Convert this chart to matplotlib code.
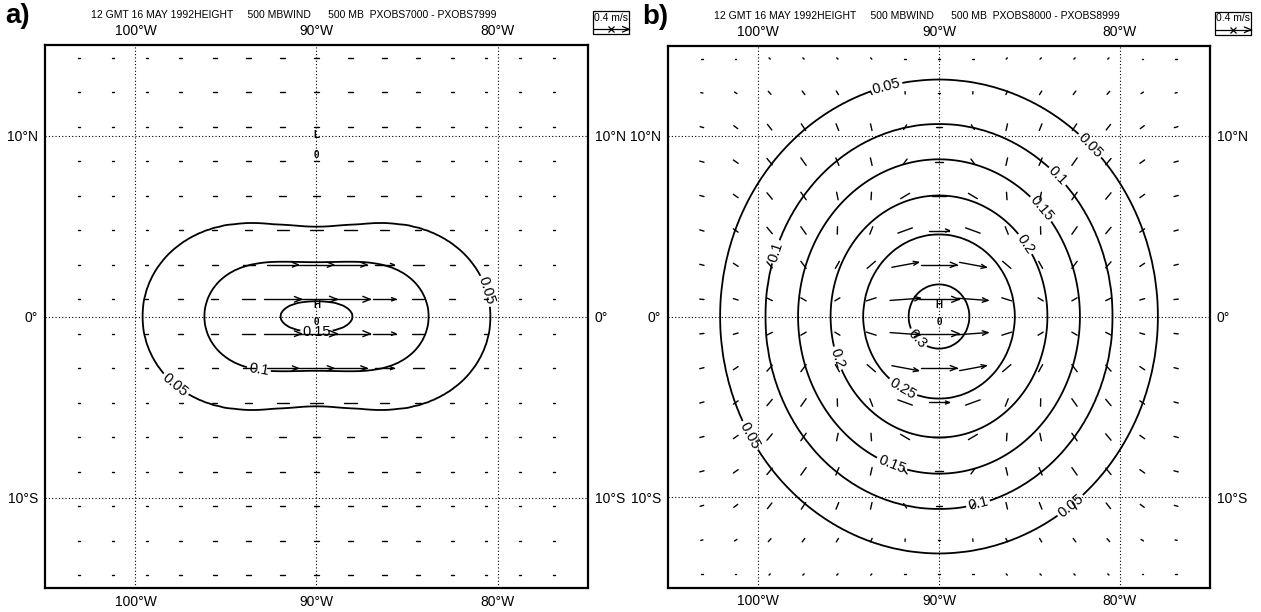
import numpy as np
import matplotlib.pyplot as plt
from matplotlib.collections import LineCollection
from matplotlib.patches import Rectangle

plt.rcParams['font.family'] = ['Liberation Sans', 'DejaVu Sans']

# vector grid (gaussian grid points inside the map)
grid_lons = [-103.125, -101.25, -99.375, -97.5, -95.625, -93.75, -91.875, -90.0,
             -88.125, -86.25, -84.375, -82.5, -80.625, -78.75, -76.875]
grid_lats = [14.28, 12.38, 10.48, 8.57, 6.67, 4.76, 2.86, 0.95,
             -0.95, -2.86, -4.76, -6.67, -8.57, -10.48, -12.38, -14.28]

lon_ticks = [-100, -90, -80]
lon_labels = ['100°W', '90°W', '80°W']
lat_ticks = [10, 0, -10]
lat_labels = ['10°N', '0°', '10°S']

titles = ['12 GMT 16 MAY 1992HEIGHT     500 MBWIND      500 MB  PXOBS7000 - PXOBS7999',
          '12 GMT 16 MAY 1992HEIGHT     500 MBWIND      500 MB  PXOBS8000 - PXOBS8999']

# panel a: height increment, contour levels with semi-axes (deg)
a_levels = [0.0, 0.05, 0.1, 0.15, 0.165]
a_half_x = [15.0, 9.6, 6.2, 2.0, 0.01]
a_half_y = [9.5, 4.95, 3.0, 0.85, 0.005]
a_power = [3.0, 3.0, 3.0, 2.2, 2.0]
a_pinch = 0.12

# panel b
b_levels = [0.0, 0.05, 0.1, 0.15, 0.2, 0.25, 0.3, 0.318]
b_half_x = [16.0, 12.1, 9.6, 7.8, 6.0, 4.2, 1.7, 0.01]
b_half_y = [17.0, 13.1, 10.65, 8.7, 6.7, 4.55, 1.8, 0.01]
b_power = [2.0] * 8
b_pinch = 0.0

# wind (m/s), panel a: zonal core + weak background
a_u_lat = [0.0, 0.0, 0.0, 0.01, 0.03, 0.09, 0.33, 0.41,
           0.41, 0.33, 0.09, 0.03, 0.01, 0.0, 0.0, 0.0]
a_u_lon = [0.0, 0.0, 0.02, 0.05, 0.08, 0.25, 0.9, 1.0, 0.95, 0.5, 0.22, 0.08, 0.04, 0.0, 0.0]
a_u_bg = [0.01, 0.015, 0.025, 0.035, 0.045, 0.05, 0.055, 0.055, 0.055, 0.05, 0.045, 0.035,
          0.025, 0.015, 0.01]

# panel b: eastward core, weak westward far field, rotation around the high
b_u_lat = [0.0, 0.02, 0.08, 0.1, 0.17, 0.25, 0.42, 0.47,
           0.47, 0.42, 0.25, 0.17, 0.1, 0.08, 0.02, 0.0]
b_u_lon = [0.0, 0.0, 0.0, 0.0, 0.25, 0.35, 0.8, 1.0, 0.8, 0.35, 0.25, 0.0, 0.0, 0.0, 0.0]
b_ubg_lat = [0.015, 0.03, 0.05, 0.06, 0.06, 0.06, 0.06, 0.06,
             0.06, 0.06, 0.06, 0.06, 0.06, 0.05, 0.03, 0.015]
b_ubg_lon = [0.8, 0.9, 1.0, 1.0, 1.0, 0.9, 0.6, 0.3, 0.6, 0.9, 1.0, 1.0, 1.0, 0.9, 0.8]
b_v_lat = [0.015, 0.04, 0.075, 0.085, 0.085, 0.085, 0.08, 0.035,
           -0.035, -0.08, -0.085, -0.085, -0.085, -0.075, -0.04, -0.015]
b_v_lon = [0.15, 0.45, 0.85, 1.0, 1.0, 1.0, 0.7, 0.0, -0.7, -1.0, -1.0, -1.0, -0.85, -0.45, -0.15]

key_speed = 0.4
deg_per_ms = 4.9   # arrow length in degrees for 1 m/s

a_label_pos = [(-97.9, -3.9), (-79.6, 1.7), (-93.2, -3.0), (-90.0, -1.1)]
b_label_pos = [(-93.0, 13.1), (-81.5, 9.6), (-83.2, 8.0), (-84.3, 6.0), (-85.1, 4.1),
               (-99.1, 3.6), (-95.9, -2.4), (-92.1, -4.1), (-91.4, -1.4), (-92.7, -8.4),
               (-87.8, -10.5), (-82.7, -10.5), (-100.9, -6.8)]


def build_field(X, Y, levels, hx, hy, pw, pinch):
    cs = np.linspace(levels[0], levels[-1], 220)
    AX = np.interp(cs, levels, hx)[:, None, None]
    AY = np.interp(cs, levels, hy)[:, None, None]
    PW = np.interp(cs, levels, pw)[:, None, None]
    fac = 1 + pinch * (1 - np.exp(-(X / 4.0) ** 2))
    G = np.abs(X / AX) ** PW + (Y / (AY * fac)) ** 2
    cnt = (G <= 1).sum(axis=0)
    i = np.clip(cnt - 1, 0, len(cs) - 2)
    g0 = np.take_along_axis(G, i[None], 0)[0]
    g1 = np.take_along_axis(G, i[None] + 1, 0)[0]
    t = np.clip((1 - g0) / (g1 - g0), 0, 1)
    Z = cs[i] + t * (cs[1] - cs[0])
    Z[cnt == 0] = 0.0
    return Z


def draw_vectors(ax, U, V):
    segs = []
    for i, la in enumerate(grid_lats):
        for j, lo in enumerate(grid_lons):
            u, v = U[i, j], V[i, j]
            L = np.hypot(u, v) * deg_per_ms
            if L < 0.08:
                L, u, v = 0.08, 1.0, 0.0
            ang = np.arctan2(v, u)
            dx, dy = L * np.cos(ang), L * np.sin(ang)
            x0, y0 = lo - dx / 2, la - dy / 2
            x1, y1 = lo + dx / 2, la + dy / 2
            segs.append([(x0, y0), (x1, y1)])
            if L > 0.9:
                h = 0.2 * L
                for s in (1, -1):
                    a2 = ang + np.pi - s * np.radians(22)
                    segs.append([(x1, y1), (x1 + h * np.cos(a2), y1 + h * np.sin(a2))])
    ax.add_collection(LineCollection(segs, colors='black', linewidths=1.0, capstyle='round'))


def style_map(ax):
    ax.set_xlim(-105, -75)
    ax.set_ylim(-15, 15)
    ax.set_aspect('equal')
    ax.set_xticks(lon_ticks, lon_labels)
    ax.set_yticks(lat_ticks, lat_labels)
    ax.tick_params(length=0, labelsize=10, top=True, labeltop=True, right=True,
                   labelright=True, pad=5)
    for lo in lon_ticks:
        ax.axvline(lo, color='black', lw=0.8, ls=(0, (1, 2)))
    for la in lat_ticks:
        ax.axhline(la, color='black', lw=0.8, ls=(0, (1, 2)))
    for sp in ax.spines.values():
        sp.set_linewidth(1.6)


def draw_key(ax):
    x0, x1, y0, y1 = 1.010, 1.076, 1.020, 1.062
    ax.add_patch(Rectangle((x0, y0), x1 - x0, y1 - y0, transform=ax.transAxes,
                           fill=False, lw=0.9, clip_on=False))
    ax.text((x0 + x1) / 2, 1.050, '%.1f m/s' % key_speed, transform=ax.transAxes,
            ha='center', va='center', fontsize=7.5)
    L = key_speed * deg_per_ms / 30.0
    xm, ym = (x0 + x1) / 2, 1.029
    ax.plot([xm - L / 2, xm + L / 2], [ym, ym], transform=ax.transAxes,
            color='black', lw=0.9, clip_on=False)
    for s in (1, -1):
        ax.plot([xm + L / 2, xm + L / 2 - 0.012], [ym, ym + s * 0.005],
                transform=ax.transAxes, color='black', lw=0.9, clip_on=False)
    ax.plot([xm], [ym], marker='x', ms=4, mew=0.9, color='black',
            transform=ax.transAxes, clip_on=False)


xs = np.linspace(-105, -75, 201)
ys = np.linspace(-15, 15, 201)
X, Y = np.meshgrid(xs + 90.0, ys)

fig = plt.figure(figsize=(12.61, 6.12), dpi=100)
ax_a = fig.add_axes([44 / 1261, 24 / 612, 545 / 1261, 543 / 612])
ax_b = fig.add_axes([668 / 1261, 24 / 612, 542 / 1261, 543 / 612])

panels = [
    (ax_a, 'a)', -0.073, titles[0], (a_levels, a_half_x, a_half_y, a_power, a_pinch),
     [0.05, 0.1, 0.15], a_label_pos),
    (ax_b, 'b)', -0.048, titles[1], (b_levels, b_half_x, b_half_y, b_power, b_pinch),
     [0.05, 0.1, 0.15, 0.2, 0.25, 0.3], b_label_pos),
]

for ax, tag, tag_x, title, spec, lev, lpos in panels:
    style_map(ax)
    Z = build_field(X, Y, *spec)
    cs = ax.contour(xs, ys, Z, levels=lev, colors='black', linewidths=1.3)
    ax.clabel(cs, fmt=lambda v: ('%.2f' % v).rstrip('0'), fontsize=10.5,
              inline=True, inline_spacing=2, manual=lpos)
    ax.text(-90, 0.65, 'H', ha='center', va='center', fontsize=7, fontweight='bold')
    ax.text(-90, -0.3, '0', ha='center', va='center', fontsize=7, fontweight='bold')
    ax.text(0.085, 1.055, title, transform=ax.transAxes, fontsize=7.5, va='center')
    ax.text(tag_x, 1.053, tag, transform=ax.transAxes, fontsize=20,
            fontweight='bold', va='center')
    draw_key(ax)

U_a = np.outer(a_u_lat, a_u_lon) + np.outer(np.ones(len(grid_lats)), a_u_bg)
draw_vectors(ax_a, U_a, np.zeros_like(U_a))
ax_a.text(-90, 10.0, 'L', ha='center', va='center', fontsize=7, fontweight='bold')
ax_a.text(-90, 8.9, '0', ha='center', va='center', fontsize=7, fontweight='bold')

U_b = np.outer(b_u_lat, b_u_lon) - np.outer(b_ubg_lat, b_ubg_lon)
V_b = np.outer(b_v_lat, np.abs(b_v_lon)) * np.sign(b_v_lon)[None, :]
draw_vectors(ax_b, U_b, V_b)

fig.savefig('out.png', dpi=100)
